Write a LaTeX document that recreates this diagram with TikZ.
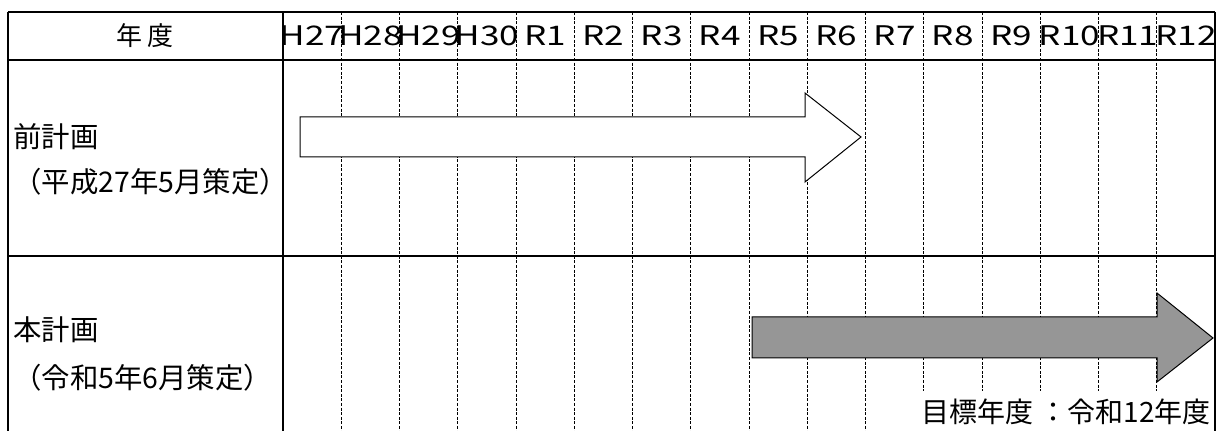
\documentclass[tikz,border=0pt]{standalone}
\usepackage{fontspec}
\setmainfont{Noto Sans CJK JP}
\newfontfamily\yearfont{Noto Sans CJK JP}[FakeStretch=1.3]
\definecolor{bargray}{HTML}{969696}
\begin{document}
\begin{tikzpicture}[x=0.5pt,y=-0.5pt,
    frame/.style={line width=1pt},
    yearline/.style={line width=0.4pt,dash pattern=on 1.5pt off 0.8pt},
    plan/.style={draw,line width=0.5pt,line join=miter},
    lbl/.style={inner sep=0pt,font=\fontsize{13pt}{15pt}\selectfont},
    rowlbl/.style={lbl,anchor=west,font=\fontsize{14.2pt}{17pt}\selectfont},
    yrlbl/.style={lbl,font=\yearfont\fontsize{13.5pt}{15pt}\selectfont}]
  \useasboundingbox (0,0) rectangle (1217,431);
  % dashed year columns
  \foreach \k in {1,...,15}
    \draw[yearline] ({283+\k*58.25},12) -- ({283+\k*58.25},431);
  % plan arrows
  \draw[plan,fill=white] (300,117) -- (805,117) -- (805,93) -- (861,137)
    -- (805,182) -- (805,157) -- (300,157) -- cycle;
  \draw[plan,fill=bargray] (752,317) -- (1157,317) -- (1157,293) -- (1213,338)
    -- (1157,382) -- (1157,358) -- (752,358) -- cycle;
  % table frame
  \draw[frame] (8,12) -- (1215,12);
  \draw[frame] (8,60) -- (1215,60);
  \draw[frame] (8,256) -- (1215,256);
  \draw[frame] (8,12) -- (8,431);
  \draw[frame] (283,12) -- (283,431);
  \draw[frame] (1215,12) -- (1215,431);
  % header
  \node[lbl] (nendo) at (145,36) {年 度};
  \foreach \yr [count=\k from 0] in {H27,H28,H29,H30,R1,R2,R3,R4,R5,R6,R7,R8,R9,R10,R11,R12}
    \node[yrlbl] (yr\k) at ({283+(\k+0.5)*58.25},36) {\yr};
  % rows
  \node[rowlbl] (mae) at (13,137) {前計画};
  \node[rowlbl] (maedate) at (13,182) {（平成27年5月策定）};
  \node[rowlbl] (hon) at (13,330) {本計画};
  \node[rowlbl] (hondate) at (13,378) {（令和5年6月策定）};
  \node[lbl,anchor=east,fill=white,inner ysep=4pt,inner xsep=1pt,
    font=\fontsize{14pt}{16pt}\selectfont] (target) at (1213,412) {目標年度 ：令和12年度};
\end{tikzpicture}
\end{document}
